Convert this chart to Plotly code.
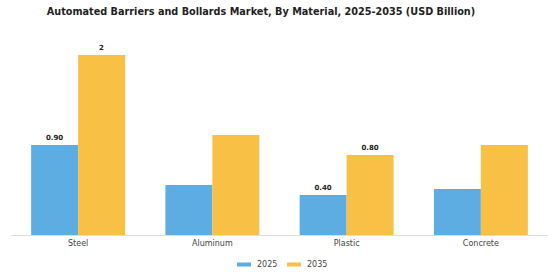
import plotly.graph_objects as go

categories = ["Steel", "Aluminum", "Plastic", "Concrete"]
series_names = ["2025", "2035"]
values_2025 = [0.90, 0.50, 0.40, 0.46]
values_2035 = [1.80, 1.00, 0.80, 0.90]
labels_2025 = ["<b>0.90</b>", "", "<b>0.40</b>", ""]
labels_2035 = ["<b>2</b>", "", "<b>0.80</b>", ""]

blue = "#5DADE2"
yellow = "#F8C146"
colors = [blue, yellow]
font = "DejaVu Sans"

# plot area geometry (pixels)
L, R, T, B = 11, 12, 30, 45
W, H = 560, 280
pw, ph = W - L - R, H - T - B

fig = go.Figure()
fig.add_trace(go.Bar(x=categories, y=values_2025, name=series_names[0], marker_color=blue,
                     marker_line_width=0, text=labels_2025, textposition="outside",
                     textfont=dict(family=font, size=7, color="#222"), cliponaxis=False))
fig.add_trace(go.Bar(x=categories, y=values_2035, name=series_names[1], marker_color=yellow,
                     marker_line_width=0, text=labels_2035, textposition="outside",
                     textfont=dict(family=font, size=7, color="#222"), cliponaxis=False))

# custom legend (wide, flat swatches)
def px_x(x):
    return (x - L) / pw

def px_y(y):
    return (H - B - y) / ph

legend_swatch_x = [237, 287]
for i, name in enumerate(series_names):
    x0 = legend_swatch_x[i]
    fig.add_shape(type="rect", xref="paper", yref="paper",
                  x0=px_x(x0), x1=px_x(x0 + 14), y0=px_y(266.5), y1=px_y(262.5),
                  fillcolor=colors[i], line_width=0)
    fig.add_annotation(text=name, xref="paper", yref="paper", x=px_x(x0 + 18), y=px_y(264.5),
                       xanchor="left", yanchor="middle", showarrow=False,
                       font=dict(family=font, size=8, color="#444"))

fig.update_layout(
    width=W, height=H,
    margin=dict(l=L, r=R, t=T, b=B, autoexpand=False),
    paper_bgcolor="white", plot_bgcolor="white",
    barmode="group", bargap=0.3, bargroupgap=0,
    title=dict(text="<b>Automated Barriers and Bollards Market, By Material, 2025-2035 (USD Billion)</b>",
               xref="container", x=261 / W, xanchor="center", y=0.96, yanchor="middle",
               font=dict(family=font, size=9.7, color="#222")),
    font=dict(family=font, size=8, color="#444"),
    showlegend=False,
)
fig.update_xaxes(showline=True, linecolor="#ddd", linewidth=1, ticks="", showgrid=False,
                 automargin=False, tickfont=dict(family=font, size=8, color="#444"))
fig.update_yaxes(range=[0, 2.05], visible=False, showgrid=False, zeroline=False)

fig.write_html("out.html")
